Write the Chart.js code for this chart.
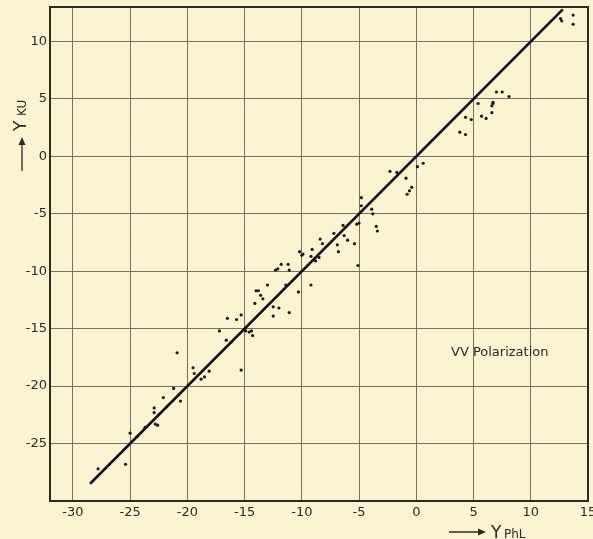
<!DOCTYPE html>
<html>
<head>
<meta charset="utf-8">
<title>VV Polarization</title>
<script src="https://cdn.jsdelivr.net/npm/chart.js@4.4.1/dist/chart.umd.min.js"></script>
<style>
  body { margin: 0; background: #fbf4d2; }
  canvas { display: block; }
</style>
</head>
<body>
<canvas id="scatterChart" width="593" height="539"></canvas>
<script>
var phlValues = [
  -27.8, -25.4, -25.0, -24.4, -23.7, -22.9, -22.9, -22.8, -22.6, -22.1,
  -21.8, -21.2, -20.9, -20.7, -20.6, -19.5, -19.4, -18.8, -18.5, -18.1,
  -17.2, -16.5, -16.6, -16.2, -15.7, -15.3, -15.3, -14.9, -14.6, -14.4,
  -14.3, -14.1, -14.0, -13.8, -13.6, -13.4, -13.0, -12.5, -12.5, -12.0,
  -11.4, -11.1, -10.3, -12.3, -12.1, -11.8, -11.2, -11.1, -9.2, -10.2,
  -9.9, -10.0, -9.2, -8.8, -8.5, -9.1, -8.4, -8.2, -7.2, -6.9,
  -6.8, -6.4, -6.3, -6.0, -5.4, -5.2, -5.0, -5.1, -4.8, -4.8,
  -3.9, -3.8, -3.5, -3.4, -2.3, -1.7, -0.9, -0.4, -0.6, -0.8,
  0.1, 0.6, 3.8, 4.3, 4.3, 4.8, 5.4, 5.7, 6.1, 6.6,
  6.6, 6.7, 6.7, 7.0, 7.5, 8.1, 12.6, 12.7, 13.7, 13.7
];
var kuValues = [
  -27.2, -26.8, -24.1, -24.4, -23.6, -21.9, -22.3, -23.3, -23.4, -21.0,
  -21.8, -20.2, -17.1, -20.7, -21.3, -18.4, -18.9, -19.4, -19.2, -18.7,
  -15.2, -14.1, -16.0, -16.2, -14.2, -13.8, -18.6, -15.2, -15.3, -15.2,
  -15.6, -12.8, -11.7, -11.7, -12.1, -12.4, -11.2, -13.9, -13.1, -13.2,
  -11.2, -13.6, -11.8, -9.9, -9.8, -9.4, -9.4, -9.9, -11.2, -8.3,
  -8.5, -8.6, -8.7, -9.1, -8.8, -8.1, -7.2, -7.6, -6.7, -7.7,
  -8.3, -6.0, -6.9, -7.3, -7.6, -5.9, -5.8, -9.5, -3.6, -4.3,
  -4.6, -5.0, -6.1, -6.5, -1.3, -1.4, -1.9, -2.7, -3.0, -3.3,
  -0.9, -0.6, 2.1, 1.9, 3.4, 3.2, 4.6, 3.5, 3.3, 3.8,
  4.4, 4.6, 4.7, 5.6, 5.6, 5.2, 12.0, 11.8, 12.3, 11.5
];

// the 1:1 line, drawn between its two end values
var lineEnds = [-28.5, 12.8];

// axis ranges and tick step
var xRange = [-32, 15];
var yRange = [-30, 13];
var tickStep = 5;

var annotationText = 'VV Polarization';

var points = phlValues.map(function (v, i) { return { x: v, y: kuValues[i] }; });
var linePoints = lineEnds.map(function (v) { return { x: v, y: v }; });

var paperColor = '#fbf4d2';
var inkColor = '#2b2a24';
var gridColor = '#77715c';

// paper background, frame, axis titles and the annotation
var decorations = {
  id: 'decorations',
  beforeDraw: function (chart) {
    var ctx = chart.ctx;
    ctx.save();
    ctx.fillStyle = paperColor;
    ctx.fillRect(0, 0, chart.width, chart.height);
    ctx.restore();
  },
  afterDatasetsDraw: function (chart) {
    var ctx = chart.ctx;
    var a = chart.chartArea;
    ctx.save();
    ctx.strokeStyle = inkColor;
    ctx.lineWidth = 2;
    ctx.strokeRect(a.left, a.top, a.right - a.left, a.bottom - a.top);

    // annotation inside the plot
    ctx.fillStyle = inkColor;
    ctx.font = '13px "DejaVu Sans"';
    ctx.textBaseline = 'middle';
    ctx.textAlign = 'left';
    ctx.fillText(annotationText, 451, 353);

    // x axis title:  ---> Y PhL
    ctx.lineWidth = 1.3;
    ctx.beginPath();
    ctx.moveTo(449, 532); ctx.lineTo(484, 532);
    ctx.stroke();
    ctx.beginPath();
    ctx.moveTo(486, 532); ctx.lineTo(478, 528.5); ctx.lineTo(478, 535.5);
    ctx.closePath(); ctx.fill();
    ctx.textBaseline = 'alphabetic';
    ctx.font = '17px "DejaVu Sans"';
    ctx.fillText('Y', 491, 538);
    ctx.font = '12px "DejaVu Sans"';
    ctx.fillText('PhL', 504, 538);

    // y axis title, rotated:  ---> Y KU
    ctx.translate(22, 0);
    ctx.rotate(-Math.PI / 2);
    ctx.beginPath();
    ctx.moveTo(-171, 0); ctx.lineTo(-139, 0);
    ctx.stroke();
    ctx.beginPath();
    ctx.moveTo(-137, 0); ctx.lineTo(-145, -3.5); ctx.lineTo(-145, 3.5);
    ctx.closePath(); ctx.fill();
    ctx.textBaseline = 'middle';
    ctx.font = '17px "DejaVu Sans"';
    ctx.fillText('Y', -131, 0);
    ctx.font = '12px "DejaVu Sans"';
    ctx.fillText('KU', -116, 1);
    ctx.restore();
  }
};

var scatterChart = new Chart(document.getElementById('scatterChart'), {
  type: 'scatter',
  data: {
    datasets: [{
      label: 'VV',
      data: points,
      backgroundColor: '#1c1b17',
      borderColor: '#1c1b17',
      pointRadius: 1.6,
      pointBorderWidth: 0
    }, {
      type: 'line',
      label: '1:1',
      data: linePoints,
      borderColor: '#111',
      borderWidth: 2.6,
      pointRadius: 0,
      fill: false
    }]
  },
  options: {
    responsive: false,
    animation: false,
    layout: { padding: { top: 7, right: 5, left: 0, bottom: 0 } },
    plugins: {
      legend: { display: false },
      tooltip: { enabled: false }
    },
    scales: {
      x: {
        type: 'linear',
        min: xRange[0],
        max: xRange[1],
        afterFit: function (scale) {
          scale.height = 38;
          scale.paddingLeft = 0;
          scale.paddingRight = 0;
        },
        border: { display: false },
        grid: { color: gridColor, lineWidth: 1, drawTicks: false },
        ticks: {
          stepSize: tickStep,
          includeBounds: false,
          padding: 4,
          color: inkColor,
          font: { family: 'DejaVu Sans', size: 13 },
          maxRotation: 0
        }
      },
      y: {
        type: 'linear',
        min: yRange[0],
        max: yRange[1],
        afterFit: function (scale) {
          scale.width = 50;
          scale.paddingTop = 0;
          scale.paddingBottom = 0;
        },
        border: { display: false },
        grid: { color: gridColor, lineWidth: 1, drawTicks: false },
        ticks: {
          stepSize: tickStep,
          includeBounds: false,
          padding: 3,
          color: inkColor,
          font: { family: 'DejaVu Sans', size: 13 },
          callback: function (v) { return v === yRange[0] ? '' : v; }
        }
      }
    }
  },
  plugins: [decorations]
});
</script>
</body>
</html>
